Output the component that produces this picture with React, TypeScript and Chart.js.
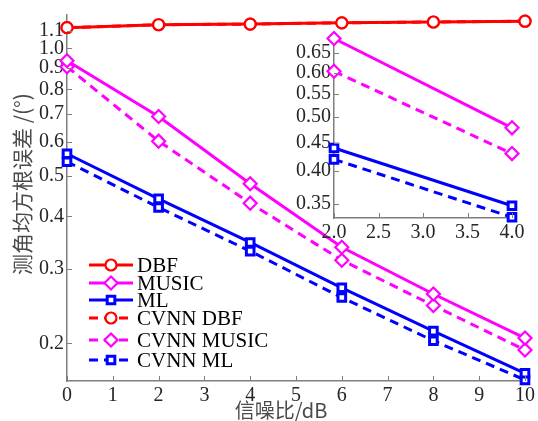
import React, { useEffect, useRef } from "react";
import { Chart, registerables } from "chart.js";

Chart.register(...registerables);

// ---- data ----
const SNR = [0, 2, 4, 6, 8, 10];
const DBF = [1.12, 1.138, 1.142, 1.15, 1.155, 1.16];
const MUSIC = [0.935, 0.69, 0.478, 0.338, 0.262, 0.206];
const ML = [0.563, 0.44, 0.347, 0.271, 0.214, 0.17];
const CVNN_DBF = [1.12, 1.138, 1.142, 1.15, 1.155, 1.16];
const CVNN_MUSIC = [0.905, 0.603, 0.43, 0.315, 0.246, 0.193];
const CVNN_ML = [0.539, 0.42, 0.331, 0.257, 0.203, 0.164];

const SERIES_LABELS = ["DBF", "MUSIC", "ML", "CVNN DBF", "CVNN MUSIC", "CVNN ML"];
const MAIN_Y_TICKS = [0.2, 0.3, 0.4, 0.5, 0.6, 0.7, 0.8, 0.9, 1.0, 1.1];
const INSET_Y_TICKS = [0.35, 0.4, 0.45, 0.5, 0.55, 0.6, 0.65];
const X_TITLE = "信噪比/dB";
const Y_TITLE = "测角均方根误差 /(°)";

const RED = "#ff0000";
const MAGENTA = "#ff00ff";
const BLUE = "#0000ff";
const AXIS = "#7f7f7f";
const TICK_COLOR = "#262626";
const SERIF = '"Liberation Serif", "DejaVu Serif", serif';

const STYLES = [
  { color: RED, point: "circle", dash: [] as number[], r: 5.5, bw: 2.2 },
  { color: MAGENTA, point: "rectRot", dash: [] as number[], r: 6.5, bw: 2.2 },
  { color: BLUE, point: "rect", dash: [] as number[], r: 5.4, bw: 3 },
  { color: RED, point: "circle", dash: [9, 6], r: 5.5, bw: 2.2 },
  { color: MAGENTA, point: "rectRot", dash: [9, 6], r: 6.5, bw: 2.2 },
  { color: BLUE, point: "rect", dash: [9, 6], r: 5.4, bw: 3 },
];
const SERIES = [DBF, MUSIC, ML, CVNN_DBF, CVNN_MUSIC, CVNN_ML];

function makeDatasets(filter: (x: number) => boolean, include: number[]) {
  return include.map((i) => {
    const s = STYLES[i];
    return {
      label: SERIES_LABELS[i],
      data: SNR.map((x, k) => ({ x, y: SERIES[i][k] })).filter((p) => filter(p.x)),
      borderColor: s.color,
      backgroundColor: s.color,
      borderWidth: 3,
      borderDash: s.dash,
      pointStyle: s.point,
      pointRadius: s.r,
      pointBorderWidth: s.bw,
      pointBorderColor: s.color,
      pointBackgroundColor: "#ffffff",
      tension: 0,
      clip: false as any,
    };
  });
}

function drawMarker(ctx: CanvasRenderingContext2D, style: string, x: number, y: number, r: number, color: string, bw: number) {
  ctx.save();
  ctx.setLineDash([]);
  ctx.strokeStyle = color;
  ctx.fillStyle = "#ffffff";
  ctx.lineWidth = bw;
  ctx.beginPath();
  if (style === "circle") {
    ctx.arc(x, y, r, 0, Math.PI * 2);
  } else if (style === "rectRot") {
    ctx.moveTo(x, y - r);
    ctx.lineTo(x + r, y);
    ctx.lineTo(x, y + r);
    ctx.lineTo(x - r, y);
    ctx.closePath();
  } else {
    const h = r * Math.SQRT1_2;
    ctx.rect(x - h, y - h, 2 * h, 2 * h);
  }
  ctx.fill();
  ctx.stroke();
  ctx.restore();
}

const inwardTicks = {
  id: "inwardTicks",
  afterDraw(chart: any) {
    const ctx = chart.ctx;
    const { left, bottom } = chart.chartArea;
    ctx.save();
    ctx.strokeStyle = AXIS;
    ctx.lineWidth = 1;
    const xs = chart.scales.x;
    xs.ticks.forEach((t: any) => {
      const px = Math.round(xs.getPixelForValue(t.value)) + 0.5;
      ctx.beginPath();
      ctx.moveTo(px, bottom);
      ctx.lineTo(px, bottom - 5);
      ctx.stroke();
    });
    const ys = chart.scales.y;
    ys.ticks.forEach((t: any) => {
      const py = Math.round(ys.getPixelForValue(t.value)) + 0.5;
      ctx.beginPath();
      ctx.moveTo(left, py);
      ctx.lineTo(left + 5, py);
      ctx.stroke();
    });
    ctx.restore();
  },
};

const mainDecor = {
  id: "mainDecor",
  afterDraw(chart: any) {
    const ctx = chart.ctx;
    // axis titles
    ctx.save();
    ctx.fillStyle = "#4a4a4a";
    ctx.font = '21px "Noto Sans CJK SC", "Liberation Serif", serif';
    ctx.textAlign = "center";
    ctx.textBaseline = "middle";
    ctx.translate(22, 184);
    ctx.rotate(-Math.PI / 2);
    ctx.fillText(Y_TITLE, 0, 0);
    ctx.restore();

    ctx.save();
    ctx.fillStyle = "#4a4a4a";
    ctx.font = '20px "Noto Sans CJK SC", "Liberation Serif", serif';
    ctx.textAlign = "center";
    ctx.textBaseline = "middle";
    ctx.fillText(X_TITLE, 281, 410);
    ctx.restore();

    // legend
    const rows = [265, 283, 300, 318, 340, 360];
    chart.data.datasets.forEach((ds: any, i: number) => {
      const y = rows[i];
      ctx.save();
      ctx.strokeStyle = ds.borderColor;
      ctx.lineWidth = 3;
      ctx.setLineDash(ds.borderDash || []);
      ctx.beginPath();
      ctx.moveTo(89, y);
      ctx.lineTo(133, y);
      ctx.stroke();
      ctx.restore();
      drawMarker(ctx, ds.pointStyle, 111, y, ds.pointRadius, ds.borderColor, ds.pointBorderWidth);
      ctx.save();
      ctx.fillStyle = "#000000";
      ctx.font = "21px " + SERIF;
      ctx.textAlign = "left";
      ctx.textBaseline = "middle";
      ctx.fillText(ds.label, 137, y + 1);
      ctx.restore();
    });
  },
};

export default function App() {
  const mainRef = useRef<HTMLCanvasElement>(null);
  const insetRef = useRef<HTMLCanvasElement>(null);

  useEffect(() => {
    const tickFont = { family: SERIF, size: 20 };
    const main = new Chart(mainRef.current!, {
      type: "line",
      data: { datasets: makeDatasets(() => true, [0, 1, 2, 3, 4, 5]) as any },
      options: {
        responsive: false,
        animation: false,
        layout: { padding: { top: 12, right: 11, left: 0, bottom: 0 } },
        plugins: { legend: { display: false }, tooltip: { enabled: false } },
        scales: {
          x: {
            type: "linear",
            min: 0,
            max: 10,
            ticks: { stepSize: 1, padding: 3, font: tickFont, color: TICK_COLOR, maxRotation: 0, autoSkip: false },
            grid: { drawOnChartArea: false, drawTicks: false },
            border: { display: true, color: AXIS, width: 1.5 },
            afterFit: (s: any) => {
              s.height = 40;
            },
          },
          y: {
            type: "logarithmic",
            min: 0.163,
            max: 1.2,
            afterBuildTicks: (s: any) => {
              s.ticks = MAIN_Y_TICKS.map((v) => ({ value: v }));
            },
            ticks: {
              callback: (v: any) => Number(v).toFixed(1),
              padding: 3,
              font: tickFont,
              color: TICK_COLOR,
              autoSkip: false,
            },
            grid: { drawOnChartArea: false, drawTicks: false },
            border: { display: true, color: AXIS, width: 1.5 },
            afterFit: (s: any) => {
              s.width = 67;
            },
          },
        } as any,
      },
      plugins: [inwardTicks, mainDecor],
    });

    const inset = new Chart(insetRef.current!, {
      type: "line",
      data: { datasets: makeDatasets((x) => x >= 2 && x <= 4, [1, 2, 4, 5]) as any },
      options: {
        responsive: false,
        animation: false,
        layout: { padding: { top: 13, right: 18, left: 0, bottom: 0 } },
        plugins: { legend: { display: false }, tooltip: { enabled: false } },
        scales: {
          x: {
            type: "linear",
            min: 2,
            max: 4,
            ticks: {
              stepSize: 0.5,
              padding: 3,
              font: tickFont,
              color: TICK_COLOR,
              maxRotation: 0,
              autoSkip: false,
              callback: (v: any) => Number(v).toFixed(1),
            },
            grid: { drawOnChartArea: false, drawTicks: false },
            border: { display: true, color: AXIS, width: 1.5 },
            afterFit: (s: any) => {
              s.height = 32;
            },
          },
          y: {
            type: "logarithmic",
            min: 0.33,
            max: 0.7,
            afterBuildTicks: (s: any) => {
              s.ticks = INSET_Y_TICKS.map((v) => ({ value: v }));
            },
            ticks: {
              callback: (v: any) => Number(v).toFixed(2),
              padding: 3,
              font: tickFont,
              color: TICK_COLOR,
              autoSkip: false,
            },
            grid: { drawOnChartArea: false, drawTicks: false },
            border: { display: true, color: AXIS, width: 1.5 },
            afterFit: (s: any) => {
              s.width = 44;
            },
          },
        } as any,
      },
      plugins: [inwardTicks],
    });

    return () => {
      main.destroy();
      inset.destroy();
    };
  }, []);

  return (
    <div>
      <canvas
        ref={mainRef}
        width={538}
        height={421}
        style={{ position: "fixed", left: 0, top: 0, width: 538, height: 421 }}
      />
      <canvas
        ref={insetRef}
        width={240}
        height={230}
        style={{ position: "fixed", left: 290, top: 20, width: 240, height: 230 }}
      />
    </div>
  );
}
